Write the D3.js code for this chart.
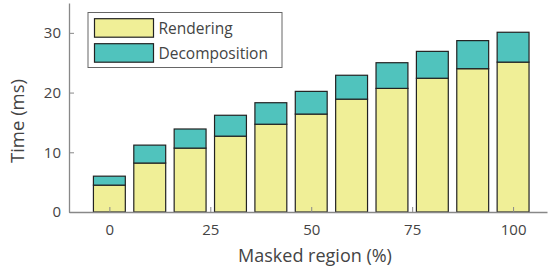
<!DOCTYPE html>
<html>
<head>
<meta charset="utf-8">
<script src="https://cdn.jsdelivr.net/npm/d3@7"></script>
<style>
  body { margin: 0; background: #fff; }
  text { font-family: 'Open Sans', sans-serif; fill: #444; }
</style>
</head>
<body>
<svg width="548" height="270"></svg>
<script>
const masked = [0, 10, 20, 30, 40, 50, 60, 70, 80, 90, 100]
const rendering = [4.5, 8.2, 10.7, 12.7, 14.7, 16.4, 18.9, 20.7, 22.4, 24.0, 25.1]
const decomposition = [1.5, 3.0, 3.2, 3.5, 3.6, 3.8, 4.0, 4.3, 4.5, 4.7, 5.0]
const xTicks = [0, 25, 50, 75, 100]
const yTicks = [0, 10, 20, 30]
const seriesNames = ['Rendering', 'Decomposition']
const colors = ['#f0ef97', '#50c3bd']

const svg = d3.select('svg')
const margin = {left: 69, right: 1, top: 3, bottom: 58}
const width = +svg.attr('width')
const height = +svg.attr('height')

const xScale = d3.scaleLinear()
  .domain([-10, 108.4])
  .range([margin.left, width - margin.right])

const yScale = d3.scaleLinear()
  .domain([0, 35])
  .range([height - margin.bottom, margin.top])

const barWidth = (xScale(10) - xScale(0)) * 0.79

const data = masked.map((m, i) => ({m, Rendering: rendering[i], Decomposition: decomposition[i]}))
const stacked = d3.stack().keys(seriesNames)(data)

// bars
const layers = svg.append('g').selectAll('g')
  .data(stacked)
  .enter()
  .append('g')
  .attr('fill', (d, i) => colors[i])

layers.selectAll('rect')
  .data(d => d)
  .enter()
  .append('rect')
  .attr('x', d => xScale(d.data.m) - barWidth / 2)
  .attr('width', barWidth)
  .attr('y', d => yScale(d[1]))
  .attr('height', d => yScale(d[0]) - yScale(d[1]))
  .attr('stroke', '#222')
  .attr('stroke-width', 1.2)

// axes
const xAxisG = svg.append('g')
  .attr('transform', `translate(0, ${yScale(0)})`)
  .call(d3.axisBottom(xScale).tickValues(xTicks).tickSizeInner(-5).tickSizeOuter(0).tickPadding(12))

const yAxisG = svg.append('g')
  .attr('transform', `translate(${margin.left}, 0)`)
  .call(d3.axisLeft(yScale).tickValues(yTicks).tickSizeInner(-5).tickSizeOuter(0).tickPadding(8))

svg.selectAll('.domain').attr('stroke', '#888').attr('stroke-width', 1.3)
svg.selectAll('.tick line').attr('stroke', '#888')
svg.selectAll('.tick text').attr('font-size', 15).attr('fill', '#444').style('font-family', "'Open Sans', sans-serif")

svg.append('text')
  .attr('x', 315)
  .attr('y', 262)
  .attr('text-anchor', 'middle')
  .attr('font-size', 18)
  .text('Masked region (%)')

svg.append('text')
  .attr('transform', `translate(24, 121) rotate(-90)`)
  .attr('text-anchor', 'middle')
  .attr('font-size', 18.5)
  .text('Time (ms)')

// legend
const legend = svg.append('g')
legend.append('rect')
  .attr('x', 88).attr('y', 12.5)
  .attr('width', 194).attr('height', 55)
  .attr('fill', '#fff')
  .attr('stroke', '#666')
  .attr('stroke-width', 1)

const items = legend.selectAll('g.item')
  .data(seriesNames)
  .enter()
  .append('g')
  .attr('transform', (d, i) => `translate(94.5, ${18.7 + i * 25})`)

items.append('rect')
  .attr('width', 59).attr('height', 18.5)
  .attr('fill', (d, i) => colors[i])
  .attr('stroke', '#222')
  .attr('stroke-width', 1.2)

items.append('text')
  .attr('x', 64).attr('y', 15)
  .attr('font-size', 15.5)
  .attr('fill', '#222')
  .text(d => d)
</script>
</body>
</html>
